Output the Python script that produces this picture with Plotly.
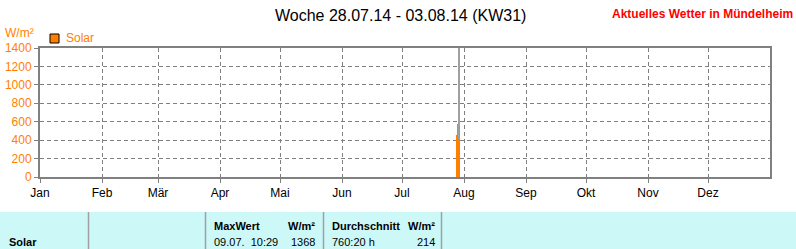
import plotly.graph_objects as go

# ---------------- data ----------------
month_ticks = ["2014-01-01", "2014-02-01", "2014-03-01", "2014-04-01", "2014-05-01", "2014-06-01",
               "2014-07-01", "2014-08-01", "2014-09-01", "2014-10-01", "2014-11-01", "2014-12-01"]
month_labels = ["Jan", "Feb", "Mär", "Apr", "Mai", "Jun", "Jul", "Aug", "Sep", "Okt", "Nov", "Dez"]
solar_times = ["2014-07-28 00:00", "2014-07-28 12:00", "2014-07-29 00:00", "2014-07-29 12:00"]
solar_values = [456, 575, 412, 557]
now_marker = "2014-07-29 12:00"
x_range = ["2014-01-01", "2015-01-01"]
y_range = [0, 1400]

title_text = "Woche 28.07.14 - 03.08.14 (KW31)"
brand_text = "Aktuelles Wetter in Mündelheim"
unit_text = "W/m²"
series_name = "Solar"
table_max_label = "MaxWert"
table_max_time = "09.07.  10:29"
table_max_value = "1368"
table_avg_label = "Durchschnitt"
table_avg_time = "760:20 h"
table_avg_value = "214"

# ---------------- layout helpers ----------------
W, H = 796, 249
L, R, T, B = 40, 770, 48, 177
PW, PH = R - L, B - T


def xp(px):
    return (px - L) / PW


def yp(py):
    return (B - py) / PH


ORANGE = "#FF8000"
GRAY = "#808080"
FONT = "Liberation Sans, Arial, sans-serif"

fig = go.Figure()
fig.add_trace(go.Bar(
    x=solar_times, y=solar_values, name=series_name,
    width=[12 * 3600 * 1000] * len(solar_times), offset=0,
    marker=dict(color=ORANGE, line=dict(width=0)),
    showlegend=False,
))

shapes = []
# current time marker
shapes.append(dict(type="line", xref="x", yref="paper", x0=now_marker, x1=now_marker, y0=0, y1=1,
                   line=dict(color=GRAY, width=1.5), layer="below"))
# legend swatch
shapes.append(dict(type="rect", xref="paper", yref="paper", x0=xp(50), x1=xp(59), y0=yp(43), y1=yp(34),
                   fillcolor=ORANGE, line=dict(color="black", width=1)))
# table background
shapes.append(dict(type="rect", xref="paper", yref="paper", x0=xp(0), x1=xp(W), y0=yp(H), y1=yp(212),
                   fillcolor="#CCF8F8", line=dict(width=0), layer="below"))
for sx in [88.5, 205.5, 323.5, 441.5]:
    shapes.append(dict(type="line", xref="paper", yref="paper", x0=xp(sx), x1=xp(sx), y0=yp(H), y1=yp(212),
                       line=dict(color="#A0A0A0", width=1.5)))

annotations = []


def txt(text, px, py, size=12, color="black", bold=False, anchor="left"):
    annotations.append(dict(
        text=f"<b>{text}</b>" if bold else text, xref="paper", yref="paper",
        x=xp(px), y=yp(py), xanchor=anchor, yanchor="middle", showarrow=False,
        font=dict(family=FONT, size=size, color=color),
    ))


txt(title_text, 400, 15, size=16, anchor="center")
txt(brand_text, 795, 14, size=12, color="#FF0000", bold=True, anchor="right")
txt(unit_text, 3, 33, size=12, color=ORANGE)
txt(series_name, 64, 38, size=12, color=ORANGE)
txt(series_name, 7, 242, size=11, bold=True)
txt(table_max_label, 212, 226, size=11, bold=True)
txt(unit_text, 317, 226, size=11, bold=True, anchor="right")
txt(table_max_time, 212, 242, size=11)
txt(table_max_value, 317, 242, size=11, anchor="right")
txt(table_avg_label, 330, 226, size=11, bold=True)
txt(unit_text, 437, 226, size=11, bold=True, anchor="right")
txt(table_avg_time, 330, 242, size=11)
txt(table_avg_value, 437, 242, size=11, anchor="right")

fig.update_layout(
    width=W, height=H, autosize=False,
    margin=dict(l=L, r=W - R, t=T, b=H - B, pad=0, autoexpand=False),
    paper_bgcolor="white", plot_bgcolor="white",
    font=dict(family=FONT, size=12, color="black"),
    shapes=shapes, annotations=annotations,
    bargap=0,
)
fig.update_xaxes(
    type="date", range=x_range, tickmode="array", tickvals=month_ticks, ticktext=month_labels,
    showgrid=True, gridcolor=GRAY, gridwidth=1, griddash="4px,3px",
    showline=True, linecolor=GRAY, linewidth=2, mirror=True,
    ticks="outside", ticklen=4, tickcolor=GRAY, tickwidth=1, automargin=False,
    tickfont=dict(size=12, color="black"), zeroline=False,
)
fig.update_yaxes(
    range=y_range, dtick=200, tick0=0,
    showgrid=True, gridcolor=GRAY, gridwidth=1, griddash="4px,3px",
    showline=True, linecolor=GRAY, linewidth=2, mirror=True,
    ticks="outside", ticklen=4, tickcolor=GRAY, tickwidth=1, automargin=False,
    tickfont=dict(size=12, color=ORANGE), zeroline=False,
)

fig.write_html("out.html")
